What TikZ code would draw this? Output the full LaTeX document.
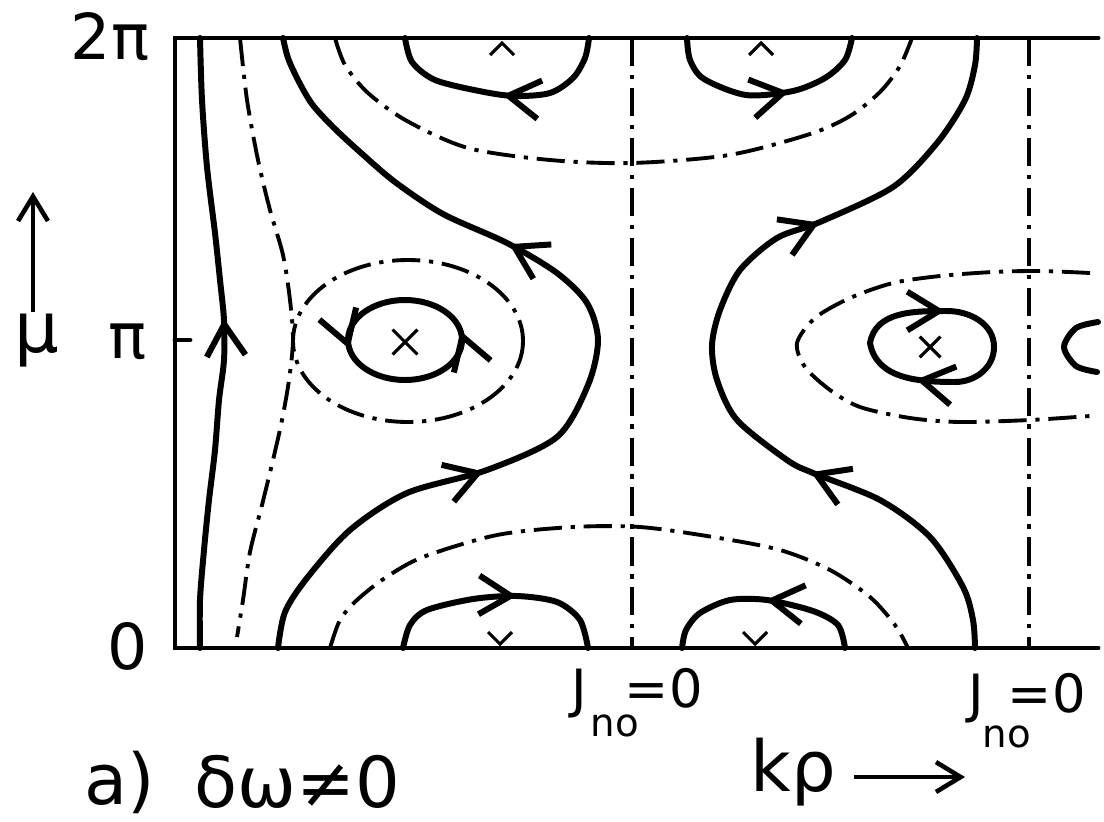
\documentclass[tikz,border=0pt]{standalone}
\usepackage{fontspec}
\setmainfont{DejaVu Sans}
\usetikzlibrary{arrows.meta,decorations.markings,shapes.misc}

\begin{document}
\begin{tikzpicture}[
x=0.01cm, y=-0.01cm, % pixel-like units, y grows downwards
>={Straight Barb[length=9pt,width=11pt]},
frame/.style={line width=1.4pt, line cap=round},
orbit/.style={line width=1.7pt, line cap=round},
level/.style={line width=1.1pt, dash pattern=on 8pt off 2.5pt on 1.2pt off 2.5pt},
flow/.style={postaction={decorate, decoration={markings, mark=at position #1 with {\arrow{>}}}}},
fixpt/.style={cross out, draw, line width=0.9pt, minimum size=6.2pt, inner sep=0pt},
tick/.style={line width=0.9pt},
axisarrow/.style={line width=1.3pt, -{Straight Barb[length=7pt,width=8.5pt]}},
lab/.style={font=\fontsize{18}{20}\selectfont, inner sep=0pt},
biglab/.style={font=\fontsize{20}{22}\selectfont, inner sep=0pt},
jlab/.style={font=\fontsize{15}{17}\selectfont, inner sep=0pt, anchor=base west}
]
\useasboundingbox (0,0) rectangle (1104,821);

% --- Frame ---
\coordinate (tl) at (175,38);
\coordinate (bl) at (175,648);
\coordinate (tr) at (1098,38);
\coordinate (br) at (1098,648);
\draw[frame] (tr) -- (tl) -- (bl) -- (br);
\draw[frame] (175,340) -- (190,340);

% axis labels
\node[lab] (twopi) at (110,37) {2π};
\node[lab] (pi) at (128,342) {π};
\node[lab] (zero) at (128,646) {0};
\node[lab, font=\fontsize{20}{22}\selectfont] (mu) at (37,341) {μ};
\coordinate (mubase) at (33,312);
\coordinate (mutop) at (33,192);
\draw[axisarrow] (mubase) -- (mutop);

% --- J_no = 0 lines ---
\draw[level] (632,38) -- (632,648);
\draw[level] (1029,38) -- (1029,648);
\node[jlab] (j1) at (571,707) {J\kern1pt\raisebox{-8.5pt}{\fontsize{11}{13}\selectfont no}\kern-4pt=0};
\node[jlab] (j2) at (968,712) {J\kern-0.5pt\raisebox{-10pt}{\fontsize{11}{13}\selectfont no}\kern-6.5pt=0};

% bottom labels
\node[biglab] (case) at (120,782) {a)};
\node[biglab] (dw) at (297,782) {δω≠0};
\node[biglab] (kp) at (793,772) {kρ};
\coordinate (kend) at (965,777);
\draw[axisarrow, shorten <=5pt] (kp.east |- kend) -- (kend);

% --- Left streamlines ---
\draw[orbit, flow=0.54] plot[smooth] coordinates {(200,648) (200,600) (204,550) (209,500) (215,450) (219,400) (224,360) (224,320) (220,280) (215,233) (207,167) (202,100) (200,38)};
\draw[level] plot[smooth] coordinates {(240,38) (247,100) (258,160) (270,210) (283,255) (290,300) (293,340) (289,380) (282,420) (273,460) (262,505) (250,552) (243,600) (237,637)};

% separatrix left
\draw[orbit, flow=0.31, flow=0.66] plot[smooth] coordinates {(278,648) (285,612) (307,578) (350,530) (407,493) (487,470) (557,437) (588,385) (598,340) (587,303) (557,273) (507,243) (443,214) (395,182) (360,152) (333,127) (312,104) (298,80) (288,58) (283,38)};

% separatrix right
\draw[orbit, flow=0.30, flow=0.70] plot[smooth] coordinates {(975,648) (973,620) (963,587) (930,537) (880,500) (813,473) (787,460) (737,420) (717,380) (712,345) (720,310) (740,270) (777,238) (820,222) (893,187) (937,143) (965,100) (975,65) (977,38)};

% --- Top and bottom level lines ---
\draw[level] plot[smooth] coordinates {(335,38) (345,65) (368,93) (407,121) (468,148) (550,160) (632,163) (729,155) (810,134) (850,116) (880,92) (900,66) (912,38)};
\draw[level] plot[smooth] coordinates {(330,648) (340,620) (357,600) (385,578) (423,557) (497,535) (573,527) (640,527) (713,537) (780,550) (830,570) (870,597) (895,625) (908,648)};

% loops at mu = 2pi
\draw[orbit, flow=0.49] plot[smooth] coordinates {(589,38) (585,58) (573,78) (550,93) (514,96) (479,91) (435,80) (412,62) (405,38)};
\draw[orbit, flow=0.6] plot[smooth] coordinates {(687,38) (690,60) (704,79) (746,95) (793,91) (825,78) (845,60) (852,38)};
\draw[tick] (490,55) -- (502,43) -- (514,55);
\draw[tick] (749,55) -- (761,43) -- (773,55);

% loops at mu = 0
\draw[orbit, flow=0.58] plot[smooth] coordinates {(403,648) (410,625) (427,610) (473,599) (517,596) (557,602) (580,620) (588,648)};
\draw[orbit, flow=0.48] plot[smooth] coordinates {(845,648) (838,625) (813,611) (767,600) (730,600) (700,613) (686,630) (682,648)};
\draw[tick] (488,632) -- (500,644) -- (512,632);
\draw[tick] (743,632) -- (755,644) -- (767,632);

% --- Islands at mu = pi ---
\draw[level] (408,341) ellipse [x radius=115, y radius=81];
\draw[orbit, flow=0.03, flow=0.53] (462,340) arc[start angle=0, end angle=-360, x radius=57, y radius=40];
\node[fixpt] (c1) at (405,342) {};

\draw[level] plot[smooth] coordinates {(1090,273) (1040,271) (993,272) (940,276) (893,283) (850,298) (815,318) (797,343) (805,367) (830,390) (860,407) (910,418) (960,422) (1030,420) (1090,416)};
\draw[orbit, flow=0.28, flow=0.8] (870,343) to[out=80, in=180] (947,311) to[out=0, in=90] (994,347) to[out=-90, in=0] (955,382) to[out=180, in=-80] (870,343);
\node[fixpt, minimum size=5pt] (c2) at (930,347) {};
\draw[orbit] plot[smooth] coordinates {(1098,322) (1076,328) (1064,347) (1076,366) (1097,372)};

\end{tikzpicture}
\end{document}
